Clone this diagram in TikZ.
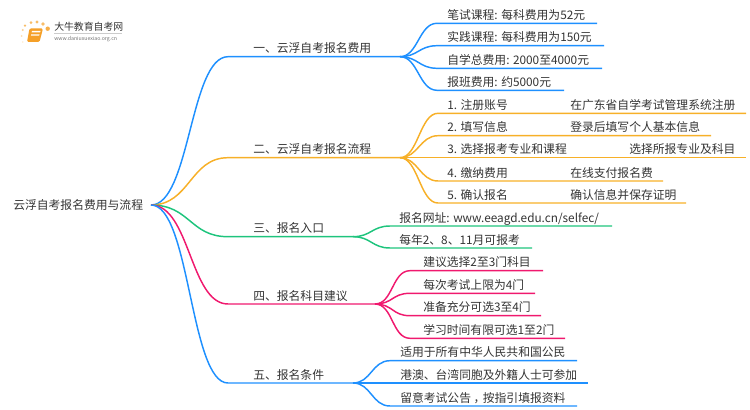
\documentclass[tikz,border=0pt]{standalone}
\usepackage{fontspec}
\setmainfont{Noto Sans CJK SC}
\definecolor{lineblue}{RGB}{30,144,255}
\definecolor{lineorange}{RGB}{247,176,40}
\definecolor{linegreen}{RGB}{30,196,125}
\definecolor{linepink}{RGB}{240,25,110}
\definecolor{txtgrey}{RGB}{51,51,51}
\definecolor{logoorange}{RGB}{245,160,40}
\tikzset{
  lbl/.style={anchor=base west,inner sep=0pt,text=txtgrey,font=\fontsize{8.85pt}{10pt}\selectfont},
  conn/.style={line width=1.1pt},
  dotl/.style={fill=logoorange!70,draw=none},
}
\begin{document}
\begin{tikzpicture}[x=0.75pt,y=0.75pt,yscale=-1,xscale=1]
    \useasboundingbox (0,0) rectangle (750,410);

    % Logo
    \fill [logoorange, rounded corners=1pt] (29.5,28.5) -- (43,28.5) -- (39.5,42) -- (27,42) -- cycle;
    \fill [white] (32,31) -- (40.5,31) -- (40,32.5) -- (31.6,32.5) -- cycle;
    \fill [white] (31.2,34.5) -- (39.5,34.5) -- (39.1,35.7) -- (30.9,35.7) -- cycle;
    \fill [dotl] (25,25.7) circle [radius=1.3];
    \fill [dotl] (31,22.7) circle [radius=1.5];
    \fill [dotl] (37,22) circle [radius=1.7];
    \fill [dotl] (43,24) circle [radius=1.8];
    \fill [logoorange!85] (47.7,28.7) circle [radius=2.2];
    \fill [dotl, opacity=.7] (22.7,30) circle [radius=1.1];
    \fill [dotl, opacity=.5] (21.7,36) circle [radius=1];
    \fill [dotl, opacity=.3] (22.7,42) circle [radius=.9];
    \node (logotitle) [lbl, font=\fontsize{7.4pt}{9pt}\selectfont] at (54,30.5) {大牛教育自考网};
    \draw [black!20, line width=0.4pt] (54,33.3) -- (122,33.3);
    \node (logourl) [lbl, text=black!55, font=\fontsize{3.9pt}{5pt}\selectfont] at (54,40.3) {www.daniuxuexiao.org.cn};

    % Root
    \node (root) [lbl] at (13,209.6) {云浮自考报名费用与流程};
    \coordinate (rootout) at (151,205);

    % Hubs
    \coordinate (hubA) at (400,56.7);
    \coordinate (hubB) at (400,157.7);
    \coordinate (hubC) at (353,236.7);
    \coordinate (hubD) at (375,304);
    \coordinate (hubE) at (353,383);

    % Main branches
    \coordinate (bA) at (228,56.7);
    \coordinate (bB) at (228,157.7);
    \coordinate (bC) at (228,236.7);
    \coordinate (bD) at (228,304);
    \coordinate (bE) at (228,383);
    \draw [conn, lineblue] (rootout) .. controls +(39,0) and +(-38,0) .. (bA) -- (hubA);
    \draw [conn, lineorange] (rootout) .. controls +(39,0) and +(-38,0) .. (bB) -- (hubB);
    \draw [conn, linegreen] (rootout) .. controls +(39,0) and +(-38,0) .. (bC) -- (hubC);
    \draw [conn, linepink] (rootout) .. controls +(39,0) and +(-38,0) .. (bD) -- (hubD);
    \draw [conn, lineblue] (rootout) .. controls +(39,0) and +(-38,0) .. (bE) -- (hubE);

    % Branch text
    \node (tA) [lbl] at (253,52.6) {一、云浮自考报名费用};
    \node (tB) [lbl] at (253,153.6) {二、云浮自考报名流程};
    \node (tC) [lbl] at (253,232.6) {三、报名入口};
    \node (tD) [lbl] at (253,300) {四、报名科目建议};
    \node (tE) [lbl] at (253,379) {五、报名条件};

    % Leaves of branch one
    \coordinate (a1) at (437,23.3);   \coordinate (a1e) at (597,23.3);
    \coordinate (a2) at (437,45.7);   \coordinate (a2e) at (604,45.7);
    \coordinate (a3) at (437,68.3);   \coordinate (a3e) at (602,68.3);
    \coordinate (a4) at (437,90.3);   \coordinate (a4e) at (564,90.3);
    \draw [conn, lineblue] (hubA) .. controls +(18,0) and +(-18,0) .. (a1) -- (a1e);
    \draw [conn, lineblue] (hubA) .. controls +(18,0) and +(-18,0) .. (a2) -- (a2e);
    \draw [conn, lineblue] (hubA) .. controls +(18,0) and +(-18,0) .. (a3) -- (a3e);
    \draw [conn, lineblue] (hubA) .. controls +(18,0) and +(-18,0) .. (a4) -- (a4e);
    \node (ta1) [lbl] at (447,19.3) {笔试课程: 每科费用为52元};
    \node (ta2) [lbl] at (447,41.7) {实践课程: 每科费用为150元};
    \node (ta3) [lbl] at (447,64.3) {自学总费用: 2000至4000元};
    \node (ta4) [lbl] at (447,86.3) {报班费用: 约5000元};

    % Leaves of branch two
    \coordinate (b1) at (438,113.3);  \coordinate (b1e) at (746,113.3);
    \coordinate (b2) at (438,135.7);  \coordinate (b2e) at (711,135.7);
    \coordinate (b3) at (438,157.7);  \coordinate (b3e) at (746,157.7);
    \coordinate (b4) at (438,181);    \coordinate (b4e) at (663,181);
    \coordinate (b5) at (438,203);    \coordinate (b5e) at (686,203);
    \draw [conn, lineorange] (hubB) .. controls +(18,0) and +(-18,0) .. (b1) -- (b1e);
    \draw [conn, lineorange] (hubB) .. controls +(18,0) and +(-18,0) .. (b2) -- (b2e);
    \draw [conn, lineorange] (hubB) -- (b3e);
    \draw [conn, lineorange] (hubB) .. controls +(18,0) and +(-18,0) .. (b4) -- (b4e);
    \draw [conn, lineorange] (hubB) .. controls +(18,0) and +(-18,0) .. (b5) -- (b5e);
    \node (tb1) [lbl] at (447,109.3) {1. 注册账号};
    \node (tb2) [lbl] at (447,131.7) {2. 填写信息};
    \node (tb3) [lbl] at (447,153.7) {3. 选择报考专业和课程};
    \node (tb4) [lbl] at (447,177) {4. 缴纳费用};
    \node (tb5) [lbl] at (447,199) {5. 确认报名};
    \node (nb1) [lbl] at (570,109.3) {在广东省自学考试管理系统注册};
    \node (nb2) [lbl] at (570,131.7) {登录后填写个人基本信息};
    \node (nb3) [lbl] at (629,153.7) {选择所报专业及科目};
    \node (nb4) [lbl] at (570,177) {在线支付报名费};
    \node (nb5) [lbl] at (570,199) {确认信息并保存证明};

    % Leaves of branch three
    \coordinate (c1) at (390,226);    \coordinate (c1e) at (612,226);
    \coordinate (c2) at (390,248);    \coordinate (c2e) at (532,248);
    \draw [conn, linegreen] (hubC) .. controls +(18,0) and +(-18,0) .. (c1) -- (c1e);
    \draw [conn, linegreen] (hubC) .. controls +(18,0) and +(-18,0) .. (c2) -- (c2e);
    \node (tc1) [lbl] at (399,222) {报名网址: www.eeagd.edu.cn/selfec/};
    \node (tc2) [lbl] at (399,244) {每年2、8、11月可报考};

    % Leaves of branch four
    \coordinate (d1) at (410,270.7);  \coordinate (d1e) at (543,270.7);
    \coordinate (d2) at (410,293.3);  \coordinate (d2e) at (535,293.3);
    \coordinate (d3) at (410,315.7);  \coordinate (d3e) at (541,315.7);
    \coordinate (d4) at (410,338.3);  \coordinate (d4e) at (565,338.3);
    \draw [conn, linepink] (hubD) .. controls +(18,0) and +(-18,0) .. (d1) -- (d1e);
    \draw [conn, linepink] (hubD) .. controls +(18,0) and +(-18,0) .. (d2) -- (d2e);
    \draw [conn, linepink] (hubD) .. controls +(18,0) and +(-18,0) .. (d3) -- (d3e);
    \draw [conn, linepink] (hubD) .. controls +(18,0) and +(-18,0) .. (d4) -- (d4e);
    \node (td1) [lbl] at (423,266.7) {建议选择2至3门科目};
    \node (td2) [lbl] at (423,289.3) {每次考试上限为4门};
    \node (td3) [lbl] at (423,311.7) {准备充分可选3至4门};
    \node (td4) [lbl] at (423,334.3) {学习时间有限可选1至2门};

    % Leaves of branch five
    \coordinate (e1) at (390,360.7);  \coordinate (e1e) at (577,360.7);
    \coordinate (e2) at (390,383);    \coordinate (e2e) at (588,383);
    \coordinate (e3) at (390,406);    \coordinate (e3e) at (577,406);
    \draw [conn, lineblue] (hubE) .. controls +(18,0) and +(-18,0) .. (e1) -- (e1e);
    \draw [conn, lineblue] (hubE) -- (e2e);
    \draw [conn, lineblue] (hubE) .. controls +(18,0) and +(-18,0) .. (e3) -- (e3e);
    \node (te1) [lbl] at (400,356.7) {适用于所有中华人民共和国公民};
    \node (te2) [lbl] at (400,379) {港澳、台湾同胞及外籍人士可参加};
    \node (te3) [lbl] at (400,402) {留意考试公告\kern2pt，\kern-2pt按指引填报资料};
\end{tikzpicture}
\end{document}
